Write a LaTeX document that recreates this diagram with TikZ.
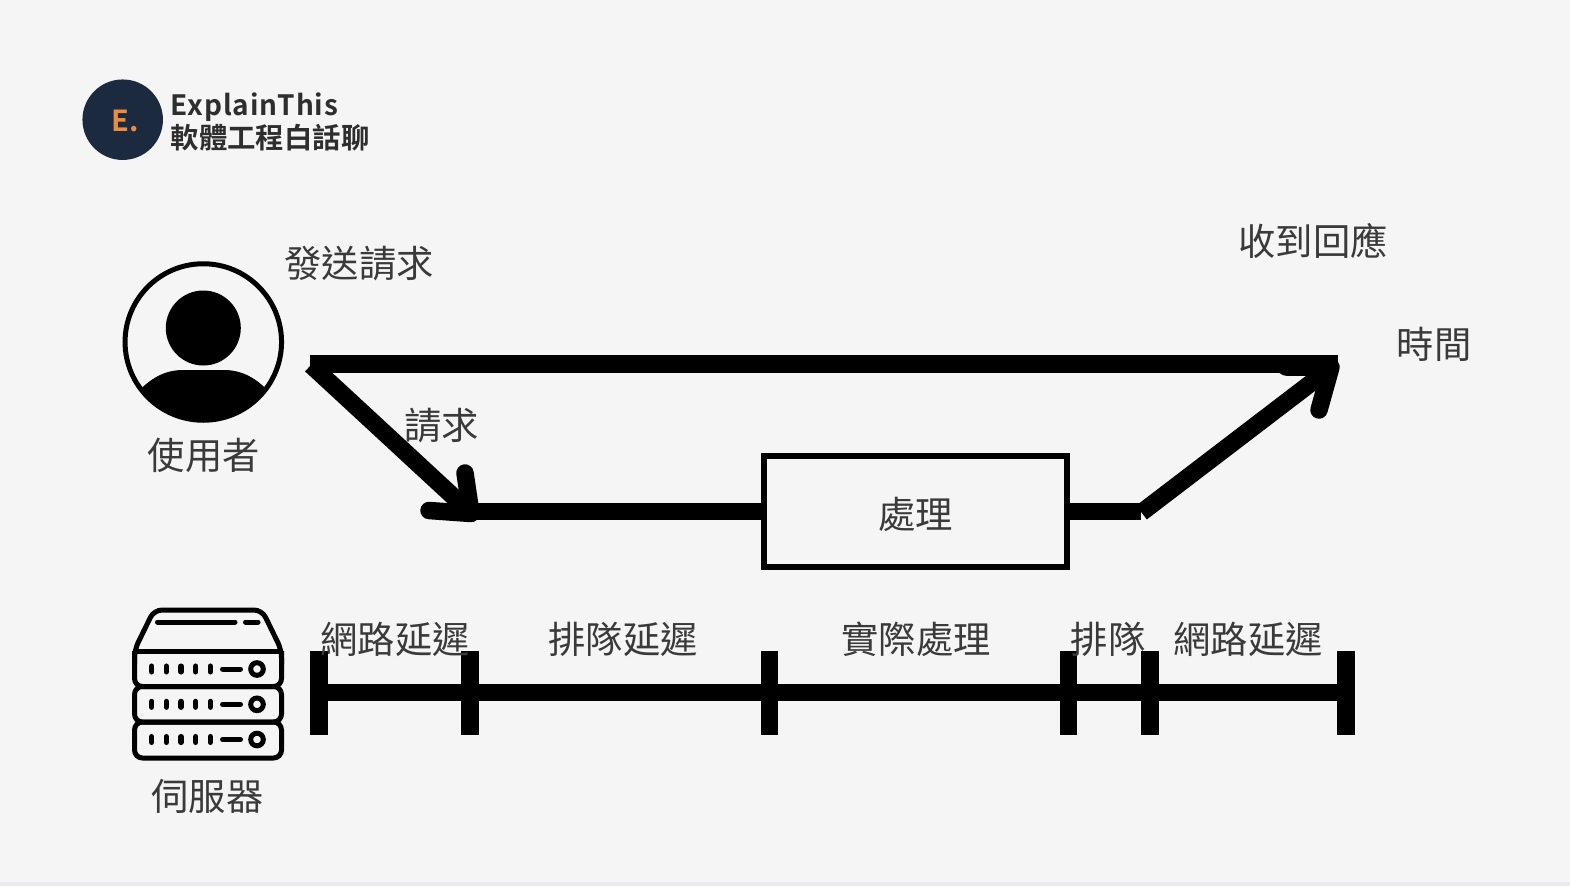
\documentclass[tikz,border=0pt]{standalone}
\usepackage{fontspec}
\newfontfamily\cjk{Noto Sans CJK TC}
\newfontfamily\cjkb[LetterSpace=3.2]{Noto Sans CJK TC Bold}
\newfontfamily\cjkc{Noto Sans CJK TC Bold}
\definecolor{bg}{HTML}{F5F5F5}
\definecolor{strip}{HTML}{E9E9EE}
\definecolor{txt}{HTML}{3A3A3A}
\definecolor{navy}{HTML}{1C2A40}
\definecolor{orng}{HTML}{EC8C3E}
\definecolor{brandtxt}{HTML}{2E2E2E}
\tikzset{
  lbl/.style={inner sep=0pt,text=txt,font=\cjk\fontsize{37.3}{40}\selectfont},
  bar/.style={line width=17.5pt,draw=black},
  head/.style={line width=17.5pt,draw=black,line cap=round,line join=round},
  tick/.style={line width=17.5pt,draw=black},
  srv/.style={line width=5pt,draw=black,rounded corners=8pt,line join=round},
  srvdot/.style={line width=5pt,draw=black,line cap=round},
}
\begin{document}
\begin{tikzpicture}[x=1pt,y=-1pt]
\useasboundingbox (0,0) rectangle (1570,886);
\fill[bg] (0,0) rectangle (1570,886);
\fill[strip] (0,882) rectangle (1570,886);
% logo
\node[circle,fill=navy,minimum size=80.5pt,inner sep=0pt] (logo) at (122.7,119.7) {};
\node[inner sep=0pt,text=orng,font=\cjkc\fontsize{29}{30}\selectfont] (logoE) at (125.5,121) {E.};
\node[inner sep=0pt,anchor=base west,text=brandtxt,font=\cjkb\fontsize{28}{30}\selectfont] (brand1) at (170.5,115) {ExplainThis};
\node[inner sep=0pt,anchor=base west,text=brandtxt,font=\cjkc\fontsize{28.4}{30}\selectfont] (brand2) at (170.5,148) {軟體工程白話聊};
% user icon
\node[circle,draw=black,line width=5pt,minimum size=156.5pt,inner sep=0pt] (user) at (203.3,342) {};
\fill[black] (203.3,328) circle (37.5);
\begin{scope}
\clip (203.3,342) circle (78);
\fill[black] (135,395) .. controls (150,378) and (165,370) .. (183,370) -- (224,370) .. controls (242,370) and (257,378) .. (272,395) -- (272,430) -- (135,430) -- cycle;
\end{scope}
% server icon
\draw[srv] (134.5,651) -- (134.5,686.5) -- (281.5,686.5) -- (281.5,651);
\draw[srv] (134.5,686.5) rectangle (281.5,722);
\draw[srv] (134.5,722) rectangle (281.5,758);
\draw[srv] (134.5,664) -- (134.5,650) -- (154,610) -- (262,610) -- (281.5,650) -- (281.5,664);
\draw[line width=5pt] (134.5,651) -- (281.5,651);
\draw[srvdot] (157.5,622) -- (235,622);
\draw[srvdot] (245.5,622) -- (258,622);
\foreach \yy in {669,704.3,739.5}{
  \foreach \xx in {151.7,166.3,181,195.7,210.3}
    \draw[line width=5.5pt,line cap=round] (\xx,\yy-2.8) -- (\xx,\yy+2.8);
  \draw[srvdot] (222.5,\yy) -- (240.5,\yy);
  \draw[line width=5pt] (257,\yy) circle (6.3);
}
% process box and flow
\node[draw=black,line width=6pt,minimum width=303.5pt,minimum height=111pt,inner sep=0pt] (proc) at (915.7,511.7) {};
\coordinate (topL) at (310,364);
\coordinate (topR) at (1337.5,364);
\coordinate (downS) at (311,365);
\coordinate (downE) at (470,512);
\coordinate (lowL) at (470,511.7);
\coordinate (lowR) at (1141,511.7);
\coordinate (upS) at (1141.5,512.5);
\coordinate (upE) at (1332,367);
\coordinate (h1a) at (465,473);
\coordinate (h1b) at (429,510.5);
\coordinate (h1t) at (471,513.5);
\coordinate (h2a) at (1319,410);
\coordinate (h2b) at (1286,367);
\coordinate (h2t) at (1331,367);
\draw[bar] (topL) -- (topR);
\draw[bar] (downS) -- (downE);
\draw[bar] (lowL) -- (proc.west);
\draw[bar] (proc.east) -- (lowR);
\draw[bar] (upS) -- (upE);
\draw[head] (h1a) -- (h1t) -- (h1b);
\draw[head] (h2a) -- (h2t) -- (h2b);
% timeline
\coordinate (t0) at (319,692.7);
\coordinate (t5) at (1346,692.7);
\draw[bar] (t0) -- (t5);
\foreach \n/\xx in {a/319,b/470,c/769.5,d/1068.7,e/1150,f/1346}{
  \coordinate (\n1) at (\xx,650.5);
  \coordinate (\n2) at (\xx,735);
  \draw[tick] (\n1) -- (\n2);
}
% labels
\node[lbl] (l1) at (359,263.5) {發送請求};
\node[lbl] (l2) at (1313,240.5) {收到回應};
\node[lbl] (l3) at (1434,344) {時間};
\node[lbl] (l4) at (203.8,455.5) {使用者};
\node[lbl] (l5) at (441.5,425.5) {請求};
\node[lbl] (l6) at (915.5,514.5) {處理};
\node[lbl] (l7) at (207.5,796) {伺服器};
\node[lbl] (l8) at (395,639) {網路延遲};
\node[lbl] (l9) at (623,639) {排隊延遲};
\node[lbl] (l10) at (916,639) {實際處理};
\node[lbl] (l11) at (1108,639) {排隊};
\node[lbl] (l12) at (1248,639) {網路延遲};
\end{tikzpicture}
\end{document}
